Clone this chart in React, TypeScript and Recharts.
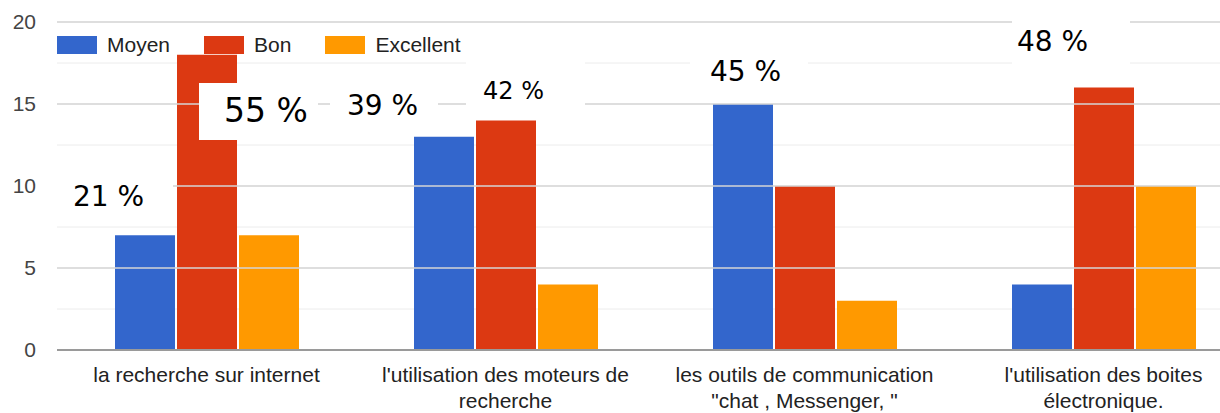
import { BarChart, Bar, XAxis, YAxis, CartesianGrid, ReferenceLine } from 'recharts'

const categories = [
  'la recherche sur internet',
  "l'utilisation des moteurs de\nrecherche",
  'les outils de communication\n"chat , Messenger, "',
  "l'utilisation des boites\nélectronique.",
]
const moyen = [7, 13, 15, 4]
const bon = [18, 14, 10, 16]
const excellent = [7, 4, 3, 10]

const yTicks = [0, 2.5, 5, 7.5, 10, 12.5, 15, 17.5, 20]
const majorTicks = [5, 10, 15, 20]

// percentages pasted on top of the chart
const notes = ['21 %', '55 %', '39 %', '42 %', '45 %', '48 %']

const SERIES = [
  { key: 'Moyen', color: '#3366cc' },
  { key: 'Bon', color: '#dc3912' },
  { key: 'Excellent', color: '#ff9900' },
]

const FONT = '"Liberation Sans", Arial, sans-serif'

// white patches + text placement for the notes (same order as notes)
const noteBoxes = [
  { box: [57, 160, 116, 60], text: [73, 183], size: 28 },
  { box: [199, 83, 119, 57], text: [224, 94], size: 33 },
  { box: [330, 78, 108, 50], text: [347, 92], size: 28 },
  { box: [466, 50, 119, 62], text: [483, 79], size: 24 },
  { box: [690, 40, 118, 50], text: [710, 58], size: 28 },
  { box: [1012, 0, 118, 80], text: [1017, 28], size: 28 },
]

const data = categories.map((c, i) => ({
  name: c,
  Moyen: moyen[i],
  Bon: bon[i],
  Excellent: excellent[i],
}))

const XTick = ({ x, y, payload }: any) => {
  const lines = String(payload.value).split('\n')
  return (
    <text x={x} y={y} textAnchor="middle" fill="#222" fontSize={21} fontFamily={FONT}>
      {lines.map((l, i) => (
        <tspan key={i} x={x} dy={i === 0 ? 24 : 26}>
          {l}
        </tspan>
      ))}
    </text>
  )
}

const YTick = ({ x, y, payload }: any) => {
  if (payload.value % 5 !== 0) return null
  return (
    <text x={x} y={y} dy={7} textAnchor="end" fill="#444" fontSize={21} fontFamily={FONT}>
      {payload.value}
    </text>
  )
}

const ChartLegend = () => (
  <div
    style={{
      position: 'absolute',
      left: 57,
      top: 36,
      display: 'flex',
      alignItems: 'center',
      fontFamily: FONT,
      fontSize: 21,
      lineHeight: '18px',
      color: '#222',
    }}
  >
    {SERIES.map((s) => (
      <div key={s.key} style={{ display: 'flex', alignItems: 'center', marginRight: 34 }}>
        <div style={{ width: 40, height: 18, background: s.color, marginRight: 10 }} />
        <span>{s.key}</span>
      </div>
    ))}
  </div>
)

export default function App() {
  return (
    <div style={{ position: 'absolute', left: 0, top: 0, width: 1220, height: 413, overflow: 'hidden', background: '#fff' }}>
      <BarChart
        width={1253}
        height={413}
        data={data}
        margin={{ top: 22, right: 0, left: 0, bottom: 0 }}
        barSize={60}
        barGap={2}
      >
        <CartesianGrid vertical={false} stroke="#ececec" strokeWidth={1} />
        {majorTicks.map((t) => (
          <ReferenceLine key={t} y={t} stroke="#d6d6d6" strokeWidth={1.5} />
        ))}
        <XAxis
          dataKey="name"
          height={63}
          tick={<XTick />}
          tickLine={false}
          interval={0}
          axisLine={{ stroke: '#9a9a9a', strokeWidth: 2 }}
        />
        <YAxis
          width={57}
          domain={[0, 20]}
          ticks={yTicks}
          tick={<YTick />}
          tickLine={false}
          axisLine={false}
          tickSize={0}
          tickMargin={21}
        />
        {SERIES.map((s) => (
          <Bar key={s.key} dataKey={s.key} fill={s.color} isAnimationActive={false} />
        ))}
      </BarChart>
      <ChartLegend />
      {noteBoxes.map((n, i) => (
        <div key={i}>
          <div
            style={{
              position: 'absolute',
              left: n.box[0],
              top: n.box[1],
              width: n.box[2],
              height: n.box[3],
              background: '#fff',
            }}
          />
          <div
            style={{
              position: 'absolute',
              left: n.text[0],
              top: n.text[1],
              fontFamily: '"DejaVu Sans", sans-serif',
              fontSize: n.size,
              lineHeight: 1,
              color: '#000',
              whiteSpace: 'nowrap',
            }}
          >
            {notes[i]}
          </div>
        </div>
      ))}
    </div>
  )
}
